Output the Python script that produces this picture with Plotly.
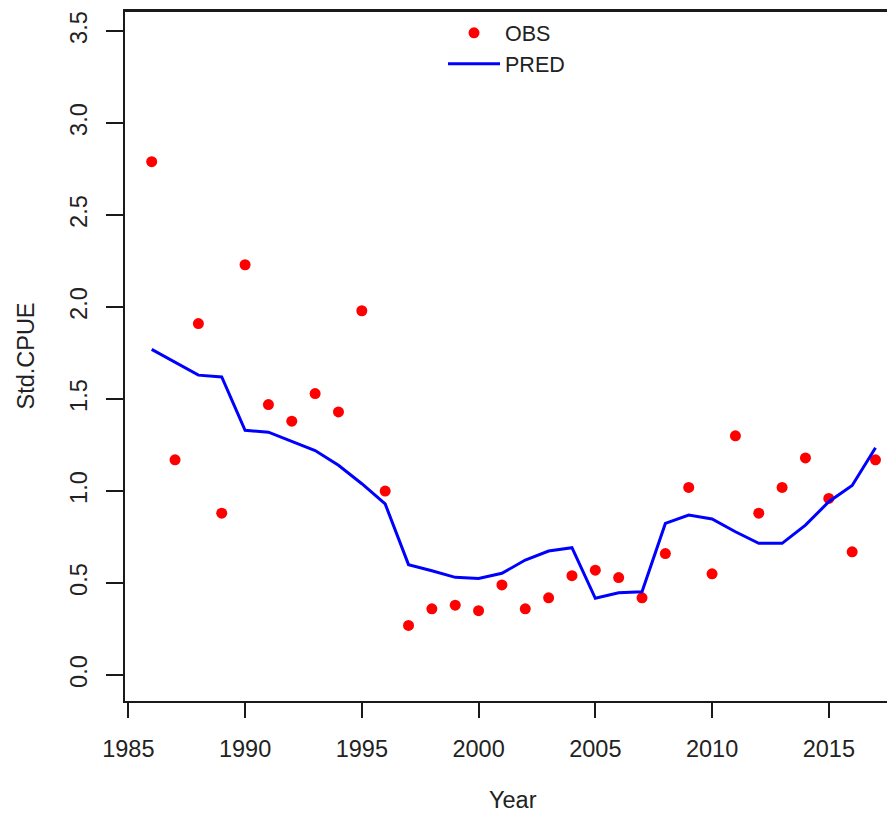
import plotly.graph_objects as go

years = list(range(1986, 2018))
obs = [2.79, 1.17, 1.91, 0.88, 2.23, 1.47, 1.38, 1.53, 1.43, 1.98,
       1.00, 0.27, 0.36, 0.38, 0.35, 0.49, 0.36, 0.42, 0.54, 0.57,
       0.53, 0.42, 0.66, 1.02, 0.55, 1.30, 0.88, 1.02, 1.18, 0.96,
       0.67, 1.17]
pred = [1.77, 1.70, 1.63, 1.62, 1.33, 1.32, 1.27, 1.22, 1.14, 1.04,
        0.93, 0.60, 0.567, 0.531, 0.525, 0.553, 0.625, 0.674, 0.692, 0.417,
        0.447, 0.453, 0.824, 0.870, 0.848, 0.779, 0.716, 0.716, 0.815, 0.942,
        1.03, 1.235]

x_ticks = [1985, 1990, 1995, 2000, 2005, 2010, 2015]
y_ticks = [0.0, 0.5, 1.0, 1.5, 2.0, 2.5, 3.0, 3.5]
y_tick_labels = ["0.0", "0.5", "1.0", "1.5", "2.0", "2.5", "3.0", "3.5"]

FONT = "Liberation Sans, Arial, sans-serif"
FS = 23.5
AX = "#1a1a1a"

fig = go.Figure()
fig.add_trace(go.Scatter(
    x=years, y=obs, mode="markers", name="OBS",
    marker=dict(color="#ff0000", size=11, line=dict(width=0)),
))
fig.add_trace(go.Scatter(
    x=years, y=pred, mode="lines", name="PRED",
    line=dict(color="#0000ff", width=3),
))

fig.update_layout(
    width=887, height=804,
    margin=dict(l=117, r=0, t=3, b=111, autoexpand=False),
    paper_bgcolor="white", plot_bgcolor="white",
    font=dict(family=FONT, size=FS, color="#222222"),
    showlegend=True,
    legend=dict(
        x=0.413, y=0.998, xanchor="left", yanchor="top",
        bgcolor="rgba(0,0,0,0)", borderwidth=0,
        font=dict(family=FONT, size=21.5, color="#222222"),
        tracegroupgap=0, itemwidth=52,
    ),
    xaxis=dict(
        range=[1984.857, 2017.835],
        tickmode="array", tickvals=x_ticks,
        ticks="outside", ticklen=15, tickwidth=2, tickcolor=AX,
        showline=True, linecolor=AX, linewidth=2, mirror=True,
        showgrid=False, zeroline=False,
        ticklabelstandoff=11,
        automargin=False,
    ),
    yaxis=dict(
        range=[-0.141, 3.609],
        tickmode="array", tickvals=y_ticks, ticktext=y_tick_labels,
        tickangle=-90,
        ticks="outside", ticklen=17, tickwidth=2, tickcolor=AX,
        showline=True, linecolor=AX, linewidth=2, mirror=False,
        showgrid=False, zeroline=False,
        ticklabelstandoff=10,
        automargin=False,
        title=dict(text="Std.CPUE", standoff=24, font=dict(size=FS)),
    ),
    shapes=[dict(
        type="line", xref="paper", yref="paper",
        x0=0, x1=1, y0=1, y1=1,
        line=dict(color=AX, width=2), layer="above",
    )],
    annotations=[dict(
        text="Year", xref="paper", yref="paper",
        x=0.504, y=-0.1435, xanchor="center", yanchor="middle",
        showarrow=False, font=dict(family=FONT, size=FS, color="#222222"),
    )],
)

fig.write_html("out.html")
